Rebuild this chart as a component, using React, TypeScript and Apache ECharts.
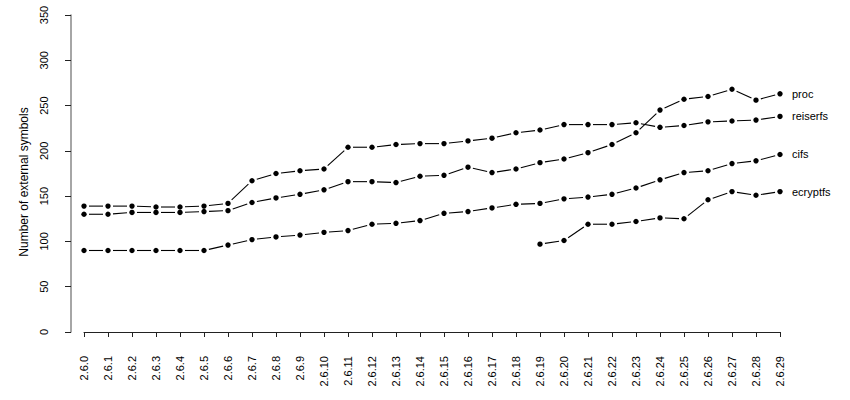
import React, { useEffect, useRef } from "react";
import * as echarts from "echarts";

const categories = [
  "2.6.0", "2.6.1", "2.6.2", "2.6.3", "2.6.4", "2.6.5", "2.6.6", "2.6.7", "2.6.8", "2.6.9",
  "2.6.10", "2.6.11", "2.6.12", "2.6.13", "2.6.14", "2.6.15", "2.6.16", "2.6.17", "2.6.18", "2.6.19",
  "2.6.20", "2.6.21", "2.6.22", "2.6.23", "2.6.24", "2.6.25", "2.6.26", "2.6.27", "2.6.28", "2.6.29",
];

const proc = [130, 130, 132, 132, 132, 133, 134, 143, 148, 152, 157, 166, 166, 165, 172, 173, 182, 176, 180, 187, 191, 198, 207, 220, 245, 257, 260, 268, 256, 263];
const reiserfs = [139, 139, 139, 138, 138, 139, 142, 167, 175, 178, 180, 204, 204, 207, 208, 208, 211, 214, 220, 223, 229, 229, 229, 231, 226, 228, 232, 233, 234, 238];
const cifs = [90, 90, 90, 90, 90, 90, 96, 102, 105, 107, 110, 112, 119, 120, 123, 131, 133, 137, 141, 142, 147, 149, 152, 159, 168, 176, 178, 186, 189, 196];
const ecryptfs: (number | null)[] = [null, null, null, null, null, null, null, null, null, null, null, null, null, null, null, null, null, null, null, 97, 101, 119, 119, 122, 126, 125, 146, 155, 151, 155];

const seriesNames = ["proc", "reiserfs", "cifs", "ecryptfs"];
const seriesValues: (number | null)[][] = [proc, reiserfs, cifs, ecryptfs];

const yTicks = { min: 0, max: 350, interval: 50 };
const yTitle = "Number of external symbols";

const FONT = "'Liberation Sans', Arial, Helvetica, sans-serif";

function makeSeries(name: string, arr: (number | null)[]) {
  const data = arr
    .map((v, i) => (v == null ? null : [i, v]))
    .filter((d) => d != null);
  const last = arr.length - 1;
  return {
    type: "custom",
    name,
    clip: false,
    encode: { x: 0, y: 1 },
    data,
    renderItem: (params: any, api: any) => {
      const i = api.value(0);
      const v = api.value(1);
      const p = api.coord([i, v]);
      const children: any[] = [];
      const next = arr[i + 1];
      if (next != null) {
        const q = api.coord([i + 1, next]);
        const dx = q[0] - p[0];
        const dy = q[1] - p[1];
        const len = Math.sqrt(dx * dx + dy * dy);
        const gap = 5;
        if (len > gap * 2) {
          const ux = dx / len;
          const uy = dy / len;
          children.push({
            type: "line",
            shape: {
              x1: p[0] + ux * gap,
              y1: p[1] + uy * gap,
              x2: q[0] - ux * gap,
              y2: q[1] - uy * gap,
            },
            style: { stroke: "#000", lineWidth: 1.1 },
          });
        }
      }
      children.push({
        type: "circle",
        shape: { cx: p[0], cy: p[1], r: 2.7 },
        style: { fill: "#000" },
      });
      if (i === last) {
        children.push({
          type: "text",
          x: p[0] + 12,
          y: p[1],
          style: {
            text: name,
            fill: "#000",
            font: `11px ${FONT}`,
            verticalAlign: "middle",
            align: "left",
          },
        });
      }
      return { type: "group", children };
    },
  };
}

export default function App() {
  const ref = useRef<HTMLDivElement>(null);
  useEffect(() => {
    if (!ref.current) return;
    const chart = echarts.init(ref.current, undefined, { renderer: "svg" });
    chart.setOption({
      animation: false,
      backgroundColor: "#fff",
      textStyle: { fontFamily: FONT },
      grid: { left: 84, right: 70, top: 15, bottom: 68 },
      xAxis: {
        type: "category",
        data: categories,
        boundaryGap: false,
        offset: 10,
        axisLine: { show: true, lineStyle: { color: "#222", width: 1 } },
        axisTick: { show: true, length: 5, inside: false, lineStyle: { color: "#222" }, interval: 0 },
        axisLabel: {
          rotate: 90,
          interval: 0,
          margin: 14,
          fontSize: 11,
          color: "#000",
          fontFamily: FONT,
        },
        splitLine: { show: false },
      },
      yAxis: {
        type: "value",
        min: yTicks.min,
        max: yTicks.max,
        interval: yTicks.interval,
        offset: 13,
        axisLine: { show: true, lineStyle: { color: "#888", width: 1.5 } },
        axisTick: { show: true, length: 6, lineStyle: { color: "#222" } },
        axisLabel: {
          rotate: 90,
          margin: 22,
          fontSize: 11,
          color: "#000",
          fontFamily: FONT,
        },
        splitLine: { show: false },
      },
      graphic: [
        {
          type: "text",
          x: 24,
          y: 182,
          rotation: Math.PI / 2,
          style: {
            text: yTitle,
            fill: "#000",
            font: `12px ${FONT}`,
            align: "center",
            verticalAlign: "middle",
          },
        },
      ],
      series: seriesNames.map((n, k) => makeSeries(n, seriesValues[k])),
    });
    return () => chart.dispose();
  }, []);
  return (
    <div
      ref={ref}
      style={{ position: "fixed", left: 0, top: 0, width: 850, height: 400 }}
    />
  );
}
